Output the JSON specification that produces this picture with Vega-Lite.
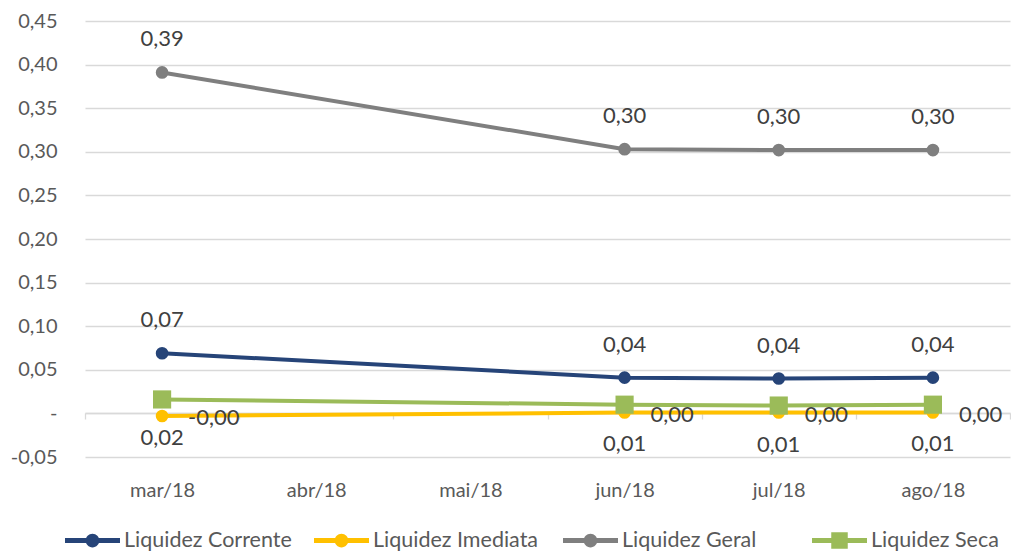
{
  "$schema": "https://vega.github.io/schema/vega-lite/v6.json",
  "width": 925,
  "height": 436,
  "autosize": {"type": "none"},
  "padding": {"left": 85, "top": 21, "right": 1, "bottom": 95},
  "background": "white",
  "config": {
    "locale": {"number": {"decimal": ",", "thousands": ".", "grouping": [3], "currency": ["R$", ""], "minus": "-"}},
    "font": "Lato",
    "view": {"stroke": null}
  },
  "data": {
    "values": [
      {"month": "mar/18", "series": "Liquidez Corrente", "value": 0.069},
      {"month": "jun/18", "series": "Liquidez Corrente", "value": 0.041},
      {"month": "jul/18", "series": "Liquidez Corrente", "value": 0.040},
      {"month": "ago/18", "series": "Liquidez Corrente", "value": 0.041},
      {"month": "mar/18", "series": "Liquidez Imediata", "value": -0.003},
      {"month": "jun/18", "series": "Liquidez Imediata", "value": 0.001},
      {"month": "jul/18", "series": "Liquidez Imediata", "value": 0.001},
      {"month": "ago/18", "series": "Liquidez Imediata", "value": 0.001},
      {"month": "mar/18", "series": "Liquidez Geral", "value": 0.391},
      {"month": "jun/18", "series": "Liquidez Geral", "value": 0.303},
      {"month": "jul/18", "series": "Liquidez Geral", "value": 0.302},
      {"month": "ago/18", "series": "Liquidez Geral", "value": 0.302},
      {"month": "mar/18", "series": "Liquidez Seca", "value": 0.016},
      {"month": "jun/18", "series": "Liquidez Seca", "value": 0.010},
      {"month": "jul/18", "series": "Liquidez Seca", "value": 0.009},
      {"month": "ago/18", "series": "Liquidez Seca", "value": 0.010}
    ]
  },
  "encoding": {
    "x": {
      "field": "month", "type": "ordinal",
      "scale": {"type": "band", "domain": ["mar/18", "abr/18", "mai/18", "jun/18", "jul/18", "ago/18"], "paddingInner": 0, "paddingOuter": 0},
      "axis": {"title": null, "offset": -44, "domainColor": "#d9d9d9", "domainWidth": 1.3, "tickColor": "#d9d9d9", "tickWidth": 1.3, "tickSize": 6, "tickBand": "extent", "labelPadding": 61, "labelFontSize": 20, "labelColor": "#595959", "labelAngle": 0, "grid": false}
    },
    "y": {
      "field": "value", "type": "quantitative",
      "scale": {"domain": [-0.05, 0.45], "nice": false, "zero": false},
      "axis": {"title": null, "values": [-0.05, 0, 0.05, 0.1, 0.15, 0.2, 0.25, 0.3, 0.35, 0.4, 0.45], "format": ".2f", "labelExpr": "datum.value == 0 ? '-\u00a0\u00a0\u00a0' : datum.label", "domain": false, "ticks": false, "gridColor": "#d9d9d9", "gridWidth": 1.3, "labelPadding": 28, "labelFontSize": 20, "labelColor": "#595959"}
    }
  },
  "layer": [
    {
      "transform": [{"filter": "false"}],
      "mark": {"type": "point", "filled": true, "opacity": 1},
      "encoding": {
        "color": {
          "field": "series", "type": "nominal",
          "scale": {"domain": ["Liquidez Corrente", "Liquidez Imediata", "Liquidez Geral", "Liquidez Seca"], "range": ["#264478", "#FFC000", "#7F7F7F", "#9BBB59"]},
          "legend": {"title": null, "orient": "none", "legendX": -20, "legendY": 492, "direction": "horizontal", "columns": 4, "gridAlign": "all", "columnPadding": 22, "symbolSize": 3025, "labelFontSize": 21.5, "labelLimit": 400, "labelColor": "#595959", "labelOffset": 4, "padding": 0, "symbolStrokeWidth": 0, "symbolOpacity": 1}
        },
        "shape": {
          "field": "series", "type": "nominal",
          "scale": {"domain": ["Liquidez Corrente", "Liquidez Imediata", "Liquidez Geral", "Liquidez Seca"], "range": [
            "M-1,-0.09L1,-0.09L1,0.09L-1,0.09Z M0.25,0A0.25,0.25 0 1 1 -0.25,0A0.25,0.25 0 1 1 0.25,0Z",
            "M-1,-0.09L1,-0.09L1,0.09L-1,0.09Z M0.25,0A0.25,0.25 0 1 1 -0.25,0A0.25,0.25 0 1 1 0.25,0Z",
            "M-1,-0.09L1,-0.09L1,0.09L-1,0.09Z M0.25,0A0.25,0.25 0 1 1 -0.25,0A0.25,0.25 0 1 1 0.25,0Z",
            "M-1,-0.09L1,-0.09L1,0.09L-1,0.09Z M-0.3,-0.3L0.3,-0.3L0.3,0.3L-0.3,0.3Z"
          ]},
          "legend": {"title": null, "orient": "none", "legendX": -20, "legendY": 492, "direction": "horizontal", "columns": 4, "gridAlign": "all", "columnPadding": 22, "symbolSize": 3025, "labelFontSize": 21.5, "labelLimit": 400, "labelColor": "#595959", "labelOffset": 4, "padding": 0, "symbolStrokeWidth": 0, "symbolOpacity": 1}
        }
      }
    },
    {
      "mark": {"type": "line", "strokeWidth": 4},
      "encoding": {"color": {"field": "series", "type": "nominal"}}
    },
    {
      "transform": [{"filter": "datum.series != 'Liquidez Seca'"}],
      "mark": {"type": "point", "filled": true, "shape": "circle", "size": 160, "opacity": 1},
      "encoding": {"color": {"field": "series", "type": "nominal"}}
    },
    {
      "transform": [{"filter": "datum.series == 'Liquidez Seca'"}],
      "mark": {"type": "point", "filled": true, "shape": "square", "size": 330, "opacity": 1},
      "encoding": {"color": {"field": "series", "type": "nominal"}}
    },
    {
      "transform": [{"filter": "datum.series == 'Liquidez Geral' || datum.series == 'Liquidez Corrente'"}],
      "mark": {"type": "text", "fontSize": 22, "color": "#404040", "dy": -33, "baseline": "middle"},
      "encoding": {"text": {"field": "value", "type": "quantitative", "format": ".2f"}}
    },
    {
      "transform": [{"filter": "datum.series == 'Liquidez Seca'"}],
      "mark": {"type": "text", "fontSize": 22, "color": "#404040", "dy": 39, "baseline": "middle"},
      "encoding": {"text": {"field": "value", "type": "quantitative", "format": ".2f"}}
    },
    {
      "transform": [
        {"filter": "datum.series == 'Liquidez Imediata'"},
        {"calculate": "(datum.value < 0 ? '-' : '') + format(abs(datum.value), '.2f')", "as": "label"}
      ],
      "mark": {"type": "text", "fontSize": 22, "color": "#404040", "dx": 26, "dy": 2, "align": "left", "baseline": "middle"},
      "encoding": {"text": {"field": "label", "type": "nominal"}}
    }
  ]
}
